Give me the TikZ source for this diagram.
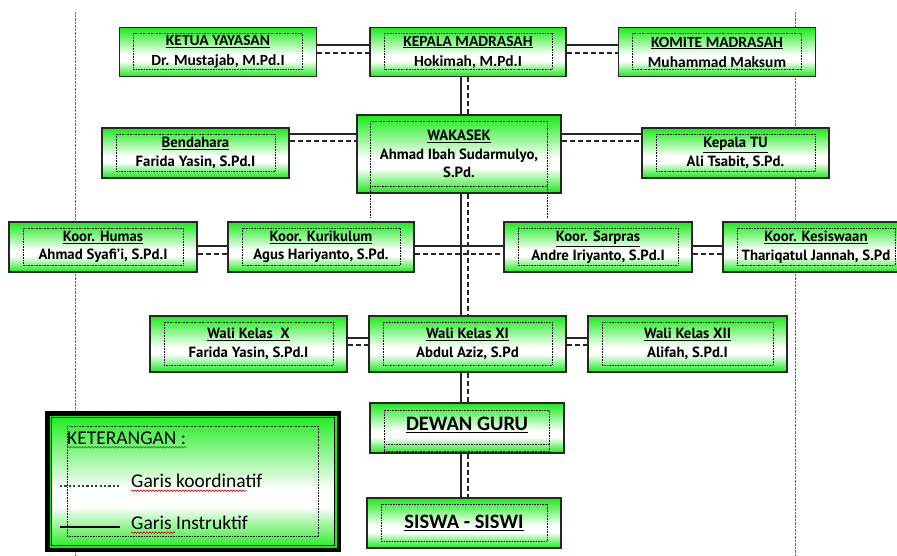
\documentclass[tikz,border=0pt]{standalone}
\usepackage{fontspec}
\setmainfont{PT Sans}
\newfontfamily\calfont{Carlito}
\usetikzlibrary{decorations.pathmorphing}

\definecolor{boxg}{RGB}{25,235,25}
\pgfdeclareverticalshading{boxgreen}{100bp}{color(0bp)=(boxg); color(25bp)=(boxg); color(41bp)=(white); color(47bp)=(white); color(75bp)=(boxg); color(100bp)=(boxg)}

\tikzset{
  innerdot/.style={black, line width=0.6pt, dash pattern=on 0.7pt off 0.9pt},
  basebox/.style={draw=black!85, line width=1.3pt, shade, shading=boxgreen, inner sep=0pt, align=center, minimum height=50pt},
  orgbox/.style={basebox, path picture={\draw[innerdot] ([shift={(14pt,-6pt)}]path picture bounding box.north west) rectangle ([shift={(-14pt,7pt)}]path picture bounding box.south east);}},
  toptxt/.style={font=\calfont\bfseries\fontsize{15.5}{20}\selectfont},
  midtxt/.style={font=\bfseries\fontsize{14.8}{18.5}\selectfont},
  bigtxt/.style={font=\calfont\bfseries\fontsize{20.5}{24}\selectfont},
  legtxt/.style={font=\calfont\fontsize{19.5}{22}\selectfont, inner sep=0pt},
  instr/.style={black!85, line width=1.2pt},
  koord/.style={black!85, line width=1.2pt, dash pattern=on 5pt off 3pt},
  guide/.style={black!60, line width=0.7pt, dash pattern=on 0.6pt off 0.8pt},
  squig/.style={line width=0.6pt, decorate, decoration={snake, amplitude=0.8pt, segment length=3pt}}
}

\begin{document}
\begin{tikzpicture}[x=1pt, y=-1pt]
  \useasboundingbox (0,0) rectangle (897,556);
  % garis bantu tepi
  \draw[guide] (75,12) -- (75,556);
  \draw[guide] (795,12) -- (795,556);

  % baris pimpinan
  \node[orgbox, toptxt, minimum width=197pt, minimum height=49pt] (ketua) at (218,52) {\underline{KETUA YAYASAN}\\Dr. Mustajab, M.Pd.I};
  \node[orgbox, toptxt, minimum width=196pt, minimum height=49pt] (kepala) at (468,52) {\underline{KEPALA MADRASAH}\\Hokimah, M.Pd.I};
  \node[orgbox, toptxt, minimum width=197pt, minimum height=49pt] (komite) at (717,52) {\underline{KOMITE MADRASAH}\\Muhammad Maksum};

  \node[basebox, midtxt, minimum width=204pt, minimum height=78pt] (waka) at (459,154) {\underline{WAKASEK}\\Ahmad Ibah Sudarmulyo,\\S.Pd.};
  \draw[innerdot] ([shift={(14pt,-24pt)}]waka.south west) -- ([shift={(14pt,-7pt)}]waka.north west) -- ([shift={(-14pt,-7pt)}]waka.north east) -- ([shift={(-14pt,-24pt)}]waka.south east);
  \draw[innerdot] ([shift={(14pt,7pt)}]waka.south west) -- ([shift={(-14pt,7pt)}]waka.south east);
  \node[orgbox, midtxt, minimum width=187pt] (benda) at (195.5,153) {\underline{Bendahara}\\Farida Yasin, S.Pd.I};
  \node[orgbox, midtxt, minimum width=187pt] (katu) at (735.5,153) {\underline{Kepala TU}\\Ali Tsabit, S.Pd.};

  % koordinator
  \node[orgbox, midtxt, minimum width=188pt] (humas) at (103,247) {\underline{Koor. Humas}\\Ahmad Syafi'i, S.Pd.I};
  \node[orgbox, midtxt, minimum width=186pt] (kurik) at (321,247) {\underline{Koor. Kurikulum}\\Agus Hariyanto, S.Pd.};
  \node[orgbox, midtxt, minimum width=188pt] (sarpras) at (598,247) {\underline{Koor. Sarpras}\\Andre Iriyanto, S.Pd.I};
  \node[orgbox, midtxt, minimum width=186pt] (kesis) at (816,247) {\underline{Koor. Kesiswaan}\\Thariqatul Jannah, S.Pd};

  % wali kelas
  \node[orgbox, midtxt, minimum width=197pt, minimum height=56pt] (walix) at (248.5,344) {\underline{Wali Kelas\ \ X}\\Farida Yasin, S.Pd.I};
  \node[orgbox, midtxt, minimum width=197pt, minimum height=56pt] (walixi) at (467.5,344) {\underline{Wali Kelas XI}\\Abdul Aziz, S.Pd};
  \node[orgbox, midtxt, minimum width=199pt, minimum height=56pt] (walixii) at (687.5,344) {\underline{Wali Kelas XII}\\Alifah, S.Pd.I};

  \node[basebox, bigtxt, minimum width=194pt] (dewan) at (467,428) {\raisebox{8pt}{\underline{DEWAN GURU}}};
  \draw[innerdot] ([shift={(15pt,1pt)}]dewan.south west) -- ([shift={(15pt,-8pt)}]dewan.north west) -- ([shift={(-15pt,-8pt)}]dewan.north east) -- ([shift={(-15pt,1pt)}]dewan.south east);
  \draw[innerdot] ([shift={(15pt,9pt)}]dewan.south west) -- ([shift={(-15pt,9pt)}]dewan.south east);
  \draw[innerdot] ([shift={(15pt,2pt)}]dewan.south west) -- ([shift={(-15pt,2pt)}]dewan.south east);
  \node[orgbox, bigtxt, minimum width=194pt] (siswa) at (464,523) {\raisebox{3pt}{\underline{SISWA - SISWI}}};

  % garis mendatar
  \foreach \a/\b/\s/\d in {ketua/kepala/7/-1, kepala/komite/7/-1, benda/waka/19/12, waka/katu/20/13,
      humas/kurik/1/-7, kurik/sarpras/1/-7, sarpras/kesis/1/-7, walix/walixi/6/-1, walixi/walixii/6/-1} {
    \draw[instr] ([yshift=\s pt]\a.east) -- ([yshift=\s pt]\a.east -| \b.west);
    \draw[koord] ([yshift=\d pt]\a.east) -- ([yshift=\d pt]\a.east -| \b.west);
  }

  % garis tegak
  \foreach \a/\b in {kepala/waka, waka/walixi, walixi/dewan, dewan/siswa} {
    \draw[instr] ([xshift=-7pt]kepala.south |- \a.south) -- ([xshift=-7pt]kepala.south |- \b.north);
    \draw[koord] (kepala.south |- \a.south) -- (kepala.south |- \b.north);
  }

  % keterangan
  \node[draw=black, line width=4.5pt, fill=boxg, minimum width=291.5pt, minimum height=136.5pt, inner sep=0pt,
    path picture={
      \shade[shading=boxgreen, draw=black, line width=0.6pt] ([shift={(4pt,-4pt)}]path picture bounding box.north west) rectangle ([shift={(-4pt,4pt)}]path picture bounding box.south east);
      \draw[innerdot] ([shift={(20pt,-13pt)}]path picture bounding box.north west) rectangle ([shift={(-20pt,13pt)}]path picture bounding box.south east);
    }] (legend) at (193,481.5) {};
  \node[legtxt, anchor=west] (legtitle) at (67,438) {KETERANGAN :};
  \node[legtxt, anchor=west] (legkoord) at (131,481) {Garis koordinatif};
  \node[legtxt, anchor=west] (leginstr) at (131,523) {Garis Instruktif};
  \coordinate (k1) at (60,486);
  \coordinate (k2) at (120,486);
  \coordinate (i1) at (60,527);
  \coordinate (i2) at (120,527);
  \draw[black!75, line width=2.6pt, dash pattern=on 2.2pt off 2.2pt] (k1) -- (k2);
  \draw[black, line width=2.4pt] (i1) -- (i2);
  \draw[squig, green!55!black] ([yshift=-3pt]legtitle.base west) -- ([yshift=-3pt]legtitle.base east);
  \draw[squig, red!85!black] ([yshift=-3pt]legkoord.base west) -- ([xshift=-16pt,yshift=-3pt]legkoord.base east);
  \draw[squig, red!85!black] ([yshift=-3pt]leginstr.base west) -- ([xshift=44pt,yshift=-3pt]leginstr.base west);
\end{tikzpicture}
\end{document}
